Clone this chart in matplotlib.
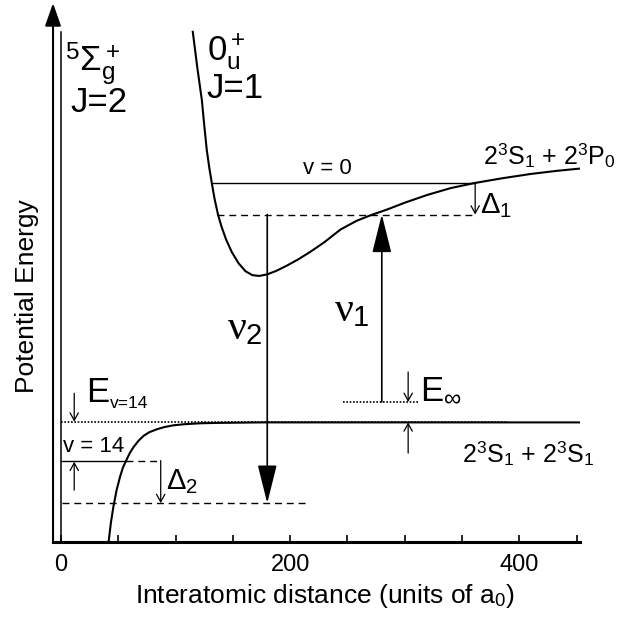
import matplotlib
matplotlib.use("Agg")
import matplotlib.pyplot as plt

plt.rcParams['font.family'] = ['Liberation Sans', 'DejaVu Sans']
plt.rcParams['mathtext.fontset'] = 'custom'
plt.rcParams['mathtext.rm'] = 'Liberation Sans'
plt.rcParams['mathtext.it'] = 'Liberation Serif'
plt.rcParams['mathtext.bf'] = 'Liberation Sans:bold'

# 0u+ J=1 potential (upper state)
r_0u = [115, 119, 122.9, 125, 127.2, 129.5, 131.6, 134, 137, 140, 144, 149, 155, 161,
        167, 173, 180, 188, 197, 207, 218, 230, 244, 258, 271, 284, 300, 320, 340,
        361, 385, 410, 433, 454]
e_0u = [9.92, 9.0, 8.19, 7.55, 6.92, 6.45, 6.08, 5.68, 5.28, 4.98, 4.65, 4.33, 4.04,
        3.84, 3.74, 3.72, 3.76, 3.85, 3.98, 4.14, 4.34, 4.58, 4.90, 5.12, 5.27, 5.40,
        5.58, 5.78, 5.95, 6.08, 6.20, 6.31, 6.39, 6.45]

# 5Sigma_g+ J=2 potential (lower state)
r_5s = [41.4, 43.5, 45.7, 48.5, 51.5, 54, 56.8, 60, 63.2, 67.5, 71.9, 77, 83.5, 90,
        98.1, 108, 121.4, 135, 150.5, 175, 453]
e_5s = [-3.06, -2.55, -2.14, -1.72, -1.38, -1.15, -0.97, -0.78, -0.63, -0.47, -0.345,
        -0.25, -0.176, -0.12, -0.074, -0.045, -0.023, -0.013, -0.008, 0, 0]

# energy levels
e_v0 = 6.08        # v = 0 of 0u+
e_v0_d = 5.28      # v = 0 minus Delta1
e_inf = 0.52       # E_inf marker
e_v14 = -0.97      # v = 14 of 5Sigma
e_v14_d = -2.05    # v = 14 minus Delta2

x_nu1 = 280
x_nu2 = 180
x_d1 = 361.5
x_d2 = 87
x_einf = 303
x_ev14 = 11.5

xmin, xmax = -7, 453
ymin, ymax = -3.05, 10.65

fig = plt.figure(figsize=(6.42, 6.18), dpi=100)
ax = fig.add_axes([0.0826, 0.1222, 0.8208, 0.8728])
ax.set_xlim(xmin, xmax)
ax.set_ylim(ymin, ymax)

for s in ['left', 'top', 'right']:
    ax.spines[s].set_visible(False)
ax.spines['bottom'].set_linewidth(2.2)
ax.set_yticks([])
ax.set_xticks(range(0, 451, 50))
ax.set_xticklabels(['0', '', '', '', '200', '', '', '', '400', ''])
ax.tick_params(axis='x', direction='in', length=5, width=1.2, pad=8, labelsize=17)

# y axis arrow
ax.annotate('', xy=(xmin, ymax), xytext=(xmin, ymin),
            arrowprops=dict(arrowstyle='-|>,head_length=1.0,head_width=0.35',
                            mutation_scale=14, lw=1.5, color='black',
                            shrinkA=0, shrinkB=0), annotation_clip=False)

# wall at r = 0
ax.plot([0, 0], [ymin, 9.92], color='black', lw=1.1)

# potentials
ax.plot(r_0u, e_0u, color='black', lw=1.5)
ax.plot(r_5s, e_5s, color='black', lw=1.5)

# levels
ax.plot([r_0u[6], x_d1], [e_v0, e_v0], color='black', lw=1.0)
ax.plot([136.5, x_d1 + 1], [e_v0_d, e_v0_d], color='black', lw=1.0, ls=(0, (5, 3.5)))
ax.plot([0, 390], [0, 0], color='black', lw=1.2, ls=(0, (1, 1)))
ax.plot([246, 312], [e_inf, e_inf], color='black', lw=1.2, ls=(0, (1, 1)))
ax.plot([0, 56.8], [e_v14, e_v14], color='black', lw=1.0)
ax.plot([56.8, x_d2], [e_v14, e_v14], color='black', lw=1.0, ls=(0, (5, 3.5)))
ax.plot([0.5, 215], [e_v14_d, e_v14_d], color='black', lw=1.0, ls=(0, (5, 3.5)))

# transitions
big = dict(arrowstyle='-|>,head_length=1.2,head_width=0.3', mutation_scale=20,
           lw=1.2, color='black', shrinkA=0, shrinkB=0)
ax.annotate('', xy=(x_nu1, e_v0_d), xytext=(x_nu1, e_inf), arrowprops=big)
ax.annotate('', xy=(x_nu2, e_v14_d), xytext=(x_nu2, e_v0_d), arrowprops=big)

small = dict(arrowstyle='->,head_length=0.45,head_width=0.25', mutation_scale=12,
             lw=0.9, color='black', shrinkA=0, shrinkB=0)
ax.annotate('', xy=(x_d1, e_v0_d), xytext=(x_d1, e_v0), arrowprops=small)
ax.annotate('', xy=(x_d2, e_v14_d), xytext=(x_d2, e_v14), arrowprops=small)
ax.annotate('', xy=(x_einf, e_inf), xytext=(x_einf, 1.28), arrowprops=small)
ax.annotate('', xy=(x_einf, 0.0), xytext=(x_einf, -0.78), arrowprops=small)
ax.annotate('', xy=(x_ev14, 0.02), xytext=(x_ev14, 0.74), arrowprops=small)
ax.annotate('', xy=(x_ev14, e_v14 - 0.03), xytext=(x_ev14, -1.72), arrowprops=small)

# labels
ax.text(3.5, 8.93, r'$^5\Sigma_\mathrm{g}^+$', fontsize=25, ha='left', va='baseline')
ax.text(8, 7.88, 'J=2', fontsize=25, ha='left', va='baseline')
ax.text(127, 9.2, r'$\mathrm{0_u^+}$', fontsize=25, ha='left', va='baseline')
ax.text(126.5, 8.24, 'J=1', fontsize=25, ha='left', va='baseline')
ax.text(232.5, e_v0 + 0.1, 'v = 0', fontsize=16, ha='center', va='bottom')
ax.text(2, e_v14 + 0.08, 'v = 14', fontsize=16, ha='left', va='bottom')
ax.text(368, 6.77, '2$^3$S$_1$ + 2$^3$P$_0$', fontsize=18, ha='left', va='center')
ax.text(350, -0.8, '2$^3$S$_1$ + 2$^3$S$_1$', fontsize=18, ha='left', va='center')
ax.text(366, 5.5, r'$\Delta_1$', fontsize=21, ha='left', va='center')
ax.text(92, -1.5, r'$\Delta_2$', fontsize=21, ha='left', va='center')
ax.text(269, 2.85, r'$\nu_1$', fontsize=30, ha='right', va='center')
ax.text(176, 2.4, r'$\nu_2$', fontsize=30, ha='right', va='center')
ax.text(313, 0.58, r'E$_\infty$', fontsize=25, ha='left', va='baseline')
ax.text(22, 0.53, 'E', fontsize=25, ha='left', va='baseline')
ax.text(42.5, 0.37, 'v=14', fontsize=12.5, ha='left', va='baseline')

ax.set_xlabel('Interatomic distance (units of a$_0$)', fontsize=19)
ax.xaxis.set_label_coords(0.516, -0.099)
ax.xaxis.label.set_va('center')
ax.set_ylabel('Potential Energy', fontsize=19)
ax.yaxis.set_label_coords(-0.049, 0.457)
ax.yaxis.label.set_va('center')

fig.savefig('out.png', dpi=100)
